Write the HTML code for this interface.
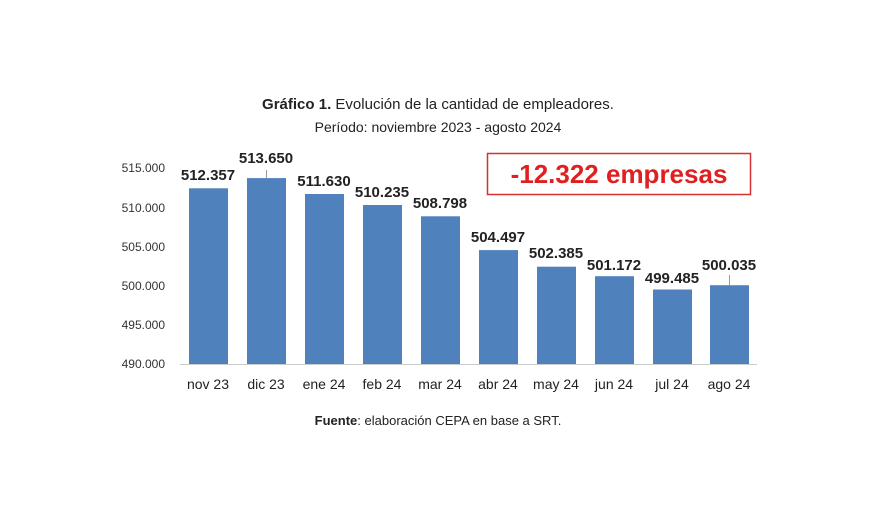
<!DOCTYPE html>
<html><head><meta charset="utf-8"><style>
body{margin:0;background:#fff;}
svg{display:block;font-family:"Liberation Sans",Arial,sans-serif;}
</style></head><body>
<svg width="880" height="512" viewBox="0 0 880 512">
<text x="438" y="109" text-anchor="middle" font-size="15" fill="#222"><tspan font-weight="bold">Gráfico 1.</tspan> Evolución de la cantidad de empleadores.</text>
<text x="438" y="132" text-anchor="middle" font-size="14" fill="#222">Período: noviembre 2023 - agosto 2024</text>
<g font-size="12" fill="#333" text-anchor="end">
<text x="165" y="172">515.000</text>
<text x="165" y="212">510.000</text>
<text x="165" y="251">505.000</text>
<text x="165" y="290">500.000</text>
<text x="165" y="329">495.000</text>
<text x="165" y="368">490.000</text>
</g>
<line x1="180" y1="364.5" x2="757" y2="364.5" stroke="#ccc"/>
<g fill="#4f81bd">
<rect x="189" y="188.3" width="39" height="175.7"/>
<rect x="247" y="178.1" width="39" height="185.9"/>
<rect x="305" y="194" width="39" height="170"/>
<rect x="363" y="205" width="39" height="159"/>
<rect x="421" y="216.3" width="39" height="147.7"/>
<rect x="479" y="250.1" width="39" height="113.9"/>
<rect x="537" y="266.7" width="39" height="97.3"/>
<rect x="595" y="276.2" width="39" height="87.8"/>
<rect x="653" y="289.5" width="39" height="74.5"/>
<rect x="710" y="285.2" width="39" height="78.8"/>
</g>
<line x1="266.5" y1="170" x2="266.5" y2="178" stroke="#999"/>
<line x1="729.5" y1="275" x2="729.5" y2="285" stroke="#999"/>
<g font-size="15" font-weight="bold" fill="#222" text-anchor="middle">
<text x="208" y="180">512.357</text>
<text x="266" y="163">513.650</text>
<text x="324" y="186">511.630</text>
<text x="382" y="197">510.235</text>
<text x="440" y="208">508.798</text>
<text x="498" y="242">504.497</text>
<text x="556" y="258">502.385</text>
<text x="614" y="270">501.172</text>
<text x="672" y="283">499.485</text>
<text x="729" y="270">500.035</text>
</g>
<g font-size="14" fill="#222" text-anchor="middle">
<text x="208" y="389">nov 23</text><text x="266" y="389">dic 23</text><text x="324" y="389">ene 24</text><text x="382" y="389">feb 24</text><text x="440" y="389">mar 24</text><text x="498" y="389">abr 24</text><text x="556" y="389">may 24</text><text x="614" y="389">jun 24</text><text x="672" y="389">jul 24</text><text x="729" y="389">ago 24</text>
</g>
<rect x="487.5" y="153.5" width="263" height="41" fill="none" stroke="#d63030" stroke-width="1.5"/>
<text x="619" y="183" text-anchor="middle" font-size="26" font-weight="bold" fill="#e02020">-12.322 empresas</text>
<text x="438" y="425" text-anchor="middle" font-size="13" fill="#222"><tspan font-weight="bold">Fuente</tspan>: elaboración CEPA en base a SRT.</text>
</svg>
</body></html>
